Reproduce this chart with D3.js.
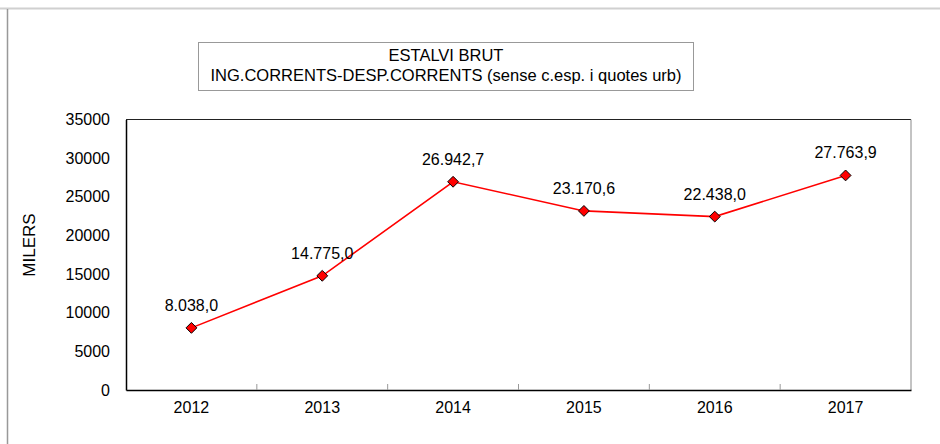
<!DOCTYPE html>
<html lang="ca">
<head>
<meta charset="utf-8">
<title>Estalvi brut</title>
<script src="https://cdn.jsdelivr.net/npm/d3@7"></script>
<style>
  body { margin: 0; background: #fff; }
  text { font-family: "Liberation Sans", Arial, sans-serif; fill: #000; }
</style>
</head>
<body>
<div id="grafic"></div>
<script>
// dades
var anys = ["2012", "2013", "2014", "2015", "2016", "2017"];
var estalvi = [8038.0, 14775.0, 26942.7, 23170.6, 22438.0, 27763.9];
var ticksY = [0, 5000, 10000, 15000, 20000, 25000, 30000, 35000];
var titol = ["ESTALVI BRUT", "ING.CORRENTS-DESP.CORRENTS (sense c.esp. i quotes urb)"];

var W = 940, H = 444;
var marge = { left: 126, right: 911, top: 119.5, bottom: 390 };

var svg = d3.select("#grafic").append("svg")
  .attr("width", W)
  .attr("height", H);

// marc exterior
svg.append("line").attr("x1", 0).attr("x2", W).attr("y1", 8.5).attr("y2", 8.5)
  .attr("stroke", "#d0d0d0").attr("stroke-width", 2);
svg.append("line").attr("x1", 7.5).attr("x2", 7.5).attr("y1", 9).attr("y2", H)
  .attr("stroke", "#999").attr("stroke-width", 1.5);

var x = d3.scaleBand().domain(anys).range([marge.left, marge.right]);
var y = d3.scaleLinear().domain([0, 35000]).range([marge.bottom, marge.top]);

// area de dibuix
svg.append("line").attr("x1", marge.left).attr("x2", marge.right)
  .attr("y1", marge.top).attr("y2", marge.top).attr("stroke", "#222");
svg.append("line").attr("x1", marge.right).attr("x2", marge.right)
  .attr("y1", marge.top).attr("y2", marge.bottom).attr("stroke", "#888");

// eix y
var eixY = svg.append("g")
  .attr("transform", "translate(" + marge.left + ",0)")
  .call(d3.axisLeft(y).tickValues(ticksY).tickSize(0).tickPadding(16).tickFormat(d3.format("d")));
eixY.select(".domain").attr("stroke", "#000").attr("stroke-width", 1.5);
eixY.selectAll("text").style("font-size", "16px").style("font-family", "Liberation Sans, Arial, sans-serif");

// eix x
var eixX = svg.append("g")
  .attr("transform", "translate(0," + marge.bottom + ")")
  .call(d3.axisBottom(x).tickSize(0).tickPadding(12));
eixX.select(".domain").attr("stroke", "#000").attr("stroke-width", 1.5);
eixX.selectAll("text").style("font-size", "16px").style("font-family", "Liberation Sans, Arial, sans-serif");

// marques entre categories
svg.selectAll(".marca").data(anys.slice(1)).enter().append("line")
  .attr("class", "marca")
  .attr("x1", function(d) { return x(d); })
  .attr("x2", function(d) { return x(d); })
  .attr("y1", marge.bottom)
  .attr("y2", marge.bottom - 6)
  .attr("stroke", "#999");

// titol eix
svg.append("text")
  .attr("transform", "translate(35,245) rotate(-90)")
  .attr("text-anchor", "middle")
  .style("font-size", "17px")
  .text("MILERS");

// capsa del titol
svg.append("rect")
  .attr("x", 198.5).attr("y", 42.5)
  .attr("width", 495).attr("height", 48)
  .attr("fill", "#fff").attr("stroke", "#999");
svg.selectAll(".titol").data(titol).enter().append("text")
  .attr("class", "titol")
  .attr("x", 446)
  .attr("y", function(d, i) { return 61 + i * 20; })
  .attr("text-anchor", "middle")
  .style("font-size", "16.5px")
  .text(function(d) { return d; });

var punts = anys.map(function(a, i) { return { any: a, v: estalvi[i] }; });

// linia
var linia = d3.line()
  .x(function(d) { return x(d.any) + x.bandwidth() / 2; })
  .y(function(d) { return y(d.v); });

svg.append("path")
  .datum(punts)
  .attr("d", linia)
  .attr("fill", "none")
  .attr("stroke", "#ff0000")
  .attr("stroke-width", 1.6);

// rombes
svg.selectAll(".punt").data(punts).enter().append("path")
  .attr("class", "punt")
  .attr("d", d3.symbol().type(d3.symbolDiamond2).size(75))
  .attr("transform", function(d) {
    return "translate(" + (x(d.any) + x.bandwidth() / 2) + "," + y(d.v) + ")";
  })
  .attr("fill", "#ff0000")
  .attr("stroke", "#000")
  .attr("stroke-width", 1);

// etiquetes
var fmt = function(v) {
  var s = v.toFixed(1).split(".");
  return s[0].replace(/\B(?=(\d{3})+(?!\d))/g, ".") + "," + s[1];
};
svg.selectAll(".etiqueta").data(punts).enter().append("text")
  .attr("class", "etiqueta")
  .attr("x", function(d) { return x(d.any) + x.bandwidth() / 2; })
  .attr("y", function(d) { return y(d.v) - 17; })
  .attr("text-anchor", "middle")
  .style("font-size", "16px")
  .text(function(d) { return fmt(d.v); });
</script>
</body>
</html>
